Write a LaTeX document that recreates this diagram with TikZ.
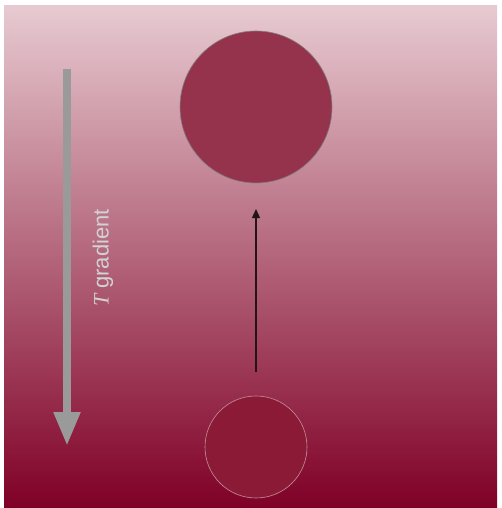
\documentclass[tikz,border=0pt]{standalone}
\usepackage{fontspec}
\setmainfont{Liberation Sans}
\newfontfamily\serifit{Liberation Serif}
\usetikzlibrary{arrows.meta,positioning}
\definecolor{bgtop}{HTML}{E7CAD1}
\definecolor{bgbot}{HTML}{7F0026}
\definecolor{bigfill}{HTML}{95334C}
\definecolor{smallfill}{HTML}{8A1A36}
\definecolor{rimpink}{HTML}{C4909C}
\definecolor{shaftgray}{HTML}{9A9A9A}
\definecolor{labelgray}{HTML}{D2D2D2}
\definecolor{riseink}{HTML}{221418}

\begin{document}
\begin{tikzpicture}[
  x=1pt, y=-1pt,
  bubble/.style={circle, draw, inner sep=0pt},
  bigdrop/.style={bubble, fill=bigfill, draw=gray, line width=0.6pt, minimum size=152pt},
  smalldrop/.style={bubble, fill=smallfill, draw=rimpink, line width=0.6pt, minimum size=102pt},
  gradarr/.style={draw=shaftgray, line width=8pt, -{Triangle[width=25pt,length=34pt]}, shaftgray},
  risearr/.style={draw=riseink, line width=1.2pt, -{Triangle[length=9pt,width=8pt]}}
]
\useasboundingbox (0,0) rectangle (501,508);
% background
\shade[top color=bgtop, bottom color=bgbot] (4,6) rectangle (497,508);

% drops
\node[bigdrop] (big) at (256,107) {};
\node[smalldrop] (small) at (256,447) {};

% rising motion
\coordinate (rise0) at (256,372);
\coordinate (rise1) at (256,209);
\draw[risearr] (rise0) -- (rise1);

% temperature gradient
\coordinate (gtop) at (67,69);
\coordinate (gbot) at (67,446);
\draw[gradarr] (gtop) -- (gbot);
\node[rotate=90, text=labelgray, font=\fontsize{22}{26}\selectfont] (glabel) at (103,258) {{\serifit\itshape T} gradient};
\end{tikzpicture}
\end{document}
